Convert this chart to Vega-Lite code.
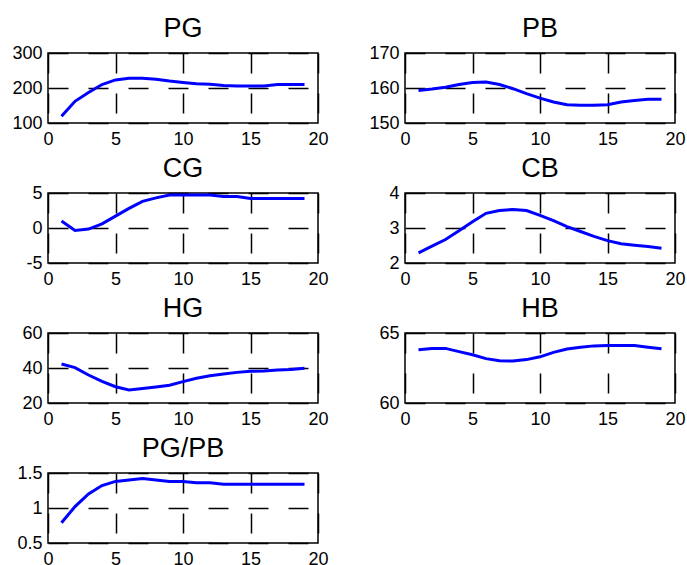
{
  "$schema": "https://vega.github.io/schema/vega-lite/v6.json",
  "background": "white",
  "padding": {"left": 11, "top": 14, "right": 5, "bottom": 0},
  "data": {"values": [
    {"x": 1, "PG": 119, "PB": 159.3, "CG": 1.0, "CB": 2.29, "HG": 42.3, "HB": 63.8, "PGPB": 0.79},
    {"x": 2, "PG": 162, "PB": 159.7, "CG": -0.35, "CB": 2.48, "HG": 40.2, "HB": 63.9, "PGPB": 1.02},
    {"x": 3, "PG": 187, "PB": 160.2, "CG": -0.15, "CB": 2.67, "HG": 36.0, "HB": 63.9, "PGPB": 1.2},
    {"x": 4, "PG": 210, "PB": 161.0, "CG": 0.6, "CB": 2.92, "HG": 32.4, "HB": 63.67, "PGPB": 1.32},
    {"x": 5, "PG": 223, "PB": 161.6, "CG": 1.7, "CB": 3.18, "HG": 29.3, "HB": 63.45, "PGPB": 1.38},
    {"x": 6, "PG": 228, "PB": 161.7, "CG": 2.8, "CB": 3.42, "HG": 27.4, "HB": 63.17, "PGPB": 1.4},
    {"x": 7, "PG": 228, "PB": 161.0, "CG": 3.8, "CB": 3.5, "HG": 28.3, "HB": 63.02, "PGPB": 1.42},
    {"x": 8, "PG": 225, "PB": 159.8, "CG": 4.3, "CB": 3.53, "HG": 29.2, "HB": 63.0, "PGPB": 1.4},
    {"x": 9, "PG": 220, "PB": 158.4, "CG": 4.7, "CB": 3.5, "HG": 30.2, "HB": 63.1, "PGPB": 1.38},
    {"x": 10, "PG": 216, "PB": 157.1, "CG": 4.7, "CB": 3.36, "HG": 32.2, "HB": 63.3, "PGPB": 1.38},
    {"x": 11, "PG": 212, "PB": 156.0, "CG": 4.7, "CB": 3.21, "HG": 34.1, "HB": 63.62, "PGPB": 1.36},
    {"x": 12, "PG": 211, "PB": 155.2, "CG": 4.7, "CB": 3.04, "HG": 35.6, "HB": 63.86, "PGPB": 1.36},
    {"x": 13, "PG": 207, "PB": 155.1, "CG": 4.5, "CB": 2.9, "HG": 36.6, "HB": 63.98, "PGPB": 1.34},
    {"x": 14, "PG": 206, "PB": 155.1, "CG": 4.5, "CB": 2.76, "HG": 37.5, "HB": 64.08, "PGPB": 1.34},
    {"x": 15, "PG": 206, "PB": 155.2, "CG": 4.2, "CB": 2.64, "HG": 38.1, "HB": 64.1, "PGPB": 1.34},
    {"x": 16, "PG": 206, "PB": 156.0, "CG": 4.2, "CB": 2.55, "HG": 38.3, "HB": 64.1, "PGPB": 1.34},
    {"x": 17, "PG": 210, "PB": 156.4, "CG": 4.2, "CB": 2.51, "HG": 38.9, "HB": 64.1, "PGPB": 1.34},
    {"x": 18, "PG": 210, "PB": 156.8, "CG": 4.2, "CB": 2.47, "HG": 39.1, "HB": 63.98, "PGPB": 1.34},
    {"x": 19, "PG": 210, "PB": 156.8, "CG": 4.2, "CB": 2.42, "HG": 39.8, "HB": 63.88, "PGPB": 1.34}
  ]},
  "columns": 2,
  "spacing": {"row": 5, "column": 39},
  "concat": [
    {"title": "PG", "width": 270, "height": 70, "mark": {"type": "line", "color": "#0000ff", "strokeWidth": 3},
     "encoding": {"x": {"field": "x", "type": "quantitative", "title": null, "scale": {"domain": [0, 20]}, "axis": {"values": [0, 5, 10, 15, 20]}},
                  "y": {"field": "PG", "type": "quantitative", "title": null, "scale": {"domain": [100, 300]}, "axis": {"values": [100, 200, 300]}}}},
    {"title": "PB", "width": 270, "height": 70, "mark": {"type": "line", "color": "#0000ff", "strokeWidth": 3},
     "encoding": {"x": {"field": "x", "type": "quantitative", "title": null, "scale": {"domain": [0, 20]}, "axis": {"values": [0, 5, 10, 15, 20]}},
                  "y": {"field": "PB", "type": "quantitative", "title": null, "scale": {"domain": [150, 170]}, "axis": {"values": [150, 160, 170]}}}},
    {"title": "CG", "width": 270, "height": 70, "mark": {"type": "line", "color": "#0000ff", "strokeWidth": 3},
     "encoding": {"x": {"field": "x", "type": "quantitative", "title": null, "scale": {"domain": [0, 20]}, "axis": {"values": [0, 5, 10, 15, 20]}},
                  "y": {"field": "CG", "type": "quantitative", "title": null, "scale": {"domain": [-5, 5]}, "axis": {"values": [-5, 0, 5]}}}},
    {"title": "CB", "width": 270, "height": 70, "mark": {"type": "line", "color": "#0000ff", "strokeWidth": 3},
     "encoding": {"x": {"field": "x", "type": "quantitative", "title": null, "scale": {"domain": [0, 20]}, "axis": {"values": [0, 5, 10, 15, 20]}},
                  "y": {"field": "CB", "type": "quantitative", "title": null, "scale": {"domain": [2, 4]}, "axis": {"values": [2, 3, 4]}}}},
    {"title": "HG", "width": 270, "height": 70, "mark": {"type": "line", "color": "#0000ff", "strokeWidth": 3},
     "encoding": {"x": {"field": "x", "type": "quantitative", "title": null, "scale": {"domain": [0, 20]}, "axis": {"values": [0, 5, 10, 15, 20]}},
                  "y": {"field": "HG", "type": "quantitative", "title": null, "scale": {"domain": [20, 60]}, "axis": {"values": [20, 40, 60]}}}},
    {"title": "HB", "width": 270, "height": 70, "mark": {"type": "line", "color": "#0000ff", "strokeWidth": 3},
     "encoding": {"x": {"field": "x", "type": "quantitative", "title": null, "scale": {"domain": [0, 20]}, "axis": {"values": [0, 5, 10, 15, 20]}},
                  "y": {"field": "HB", "type": "quantitative", "title": null, "scale": {"domain": [60, 65]}, "axis": {"values": [60, 65]}}}},
    {"title": "PG/PB", "width": 270, "height": 70, "mark": {"type": "line", "color": "#0000ff", "strokeWidth": 3},
     "encoding": {"x": {"field": "x", "type": "quantitative", "title": null, "scale": {"domain": [0, 20]}, "axis": {"values": [0, 5, 10, 15, 20]}},
                  "y": {"field": "PGPB", "type": "quantitative", "title": null, "scale": {"domain": [0.5, 1.5]}, "axis": {"values": [0.5, 1, 1.5]}}}}
  ],
  "config": {
    "font": "Liberation Sans",
    "view": {"stroke": "black", "strokeWidth": 1.5},
    "axis": {"labelFont": "Liberation Sans", "labelFontSize": 18, "labelColor": "black", "ticks": false, "domain": false, "grid": true, "gridColor": "black", "gridDash": [20, 20], "gridDashOffset": 0, "gridWidth": 1.5, "gridOpacity": 1, "labelPadding": 6, "labelFlush": false, "labelOverlap": false, "labelBound": false, "labelExpr": "datum.value + ''"},
    "axisY": {"minExtent": 36, "maxExtent": 36},
    "axisX": {"minExtent": 25, "maxExtent": 25, "labelPadding": 7},
    "title": {"fontSize": 27, "font": "Liberation Sans", "fontWeight": "normal", "color": "black", "offset": 1}
  }
}
